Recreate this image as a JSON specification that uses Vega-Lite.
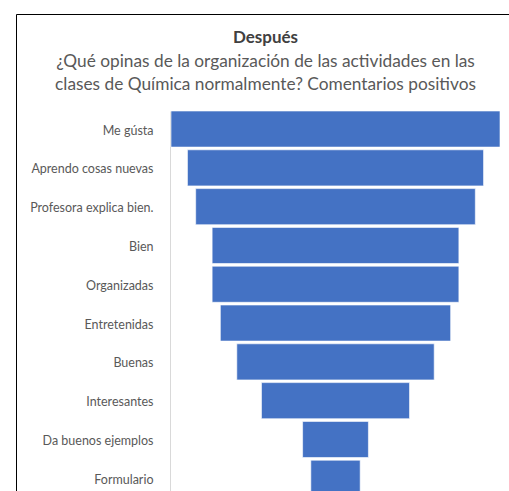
{
  "$schema": "https://vega.github.io/schema/vega-lite/v6.json",
  "autosize": {"type": "none"},
  "padding": {"left": 16, "top": 14, "right": 0, "bottom": 0},
  "width": 493,
  "height": 477,
  "title": {
    "text": "Después",
    "subtitle": ["¿Qué opinas de la organización de las actividades en las", "clases de Química normalmente? Comentarios positivos"],
    "anchor": "middle",
    "offset": -80,
    "dx": 3,
    "font": "Lato",
    "fontSize": 17,
    "fontWeight": "bold",
    "color": "#404040",
    "subtitleFont": "Lato",
    "subtitleFontSize": 17.3,
    "subtitleColor": "#595959",
    "subtitleLineHeight": 22.5,
    "subtitlePadding": 6
  },
  "config": {"view": {"stroke": "#000000", "strokeWidth": 1}},
  "data": {
    "values": [
      {"comentario": "Me gústa", "n": 20},
      {"comentario": "Aprendo cosas nuevas", "n": 18},
      {"comentario": "Profesora explica bien.", "n": 17},
      {"comentario": "Bien", "n": 15},
      {"comentario": "Organizadas", "n": 15},
      {"comentario": "Entretenidas", "n": 14},
      {"comentario": "Buenas", "n": 12},
      {"comentario": "Interesantes", "n": 9},
      {"comentario": "Da buenos ejemplos", "n": 4},
      {"comentario": "Formulario", "n": 3}
    ]
  },
  "mark": {"type": "bar", "color": "#4472C4", "stroke": "#ffffff", "strokeWidth": 0.6},
  "encoding": {
    "y": {
      "field": "comentario",
      "type": "nominal",
      "sort": null,
      "scale": {"range": [97, 482.3], "paddingInner": 0.07, "paddingOuter": 0},
      "axis": {
        "title": null,
        "offset": -154,
        "ticks": false,
        "domainColor": "#D9D9D9",
        "domainWidth": 1,
        "labelFont": "Lato",
        "labelFontSize": 12.5,
        "labelColor": "#595959",
        "labelPadding": 17,
        "labelLimit": 200,
        "labelOffset": 1.5
      }
    },
    "x": {
      "field": "n",
      "type": "quantitative",
      "stack": "center",
      "scale": {"domain": [0, 20], "range": [155, 484]},
      "axis": null
    }
  }
}
